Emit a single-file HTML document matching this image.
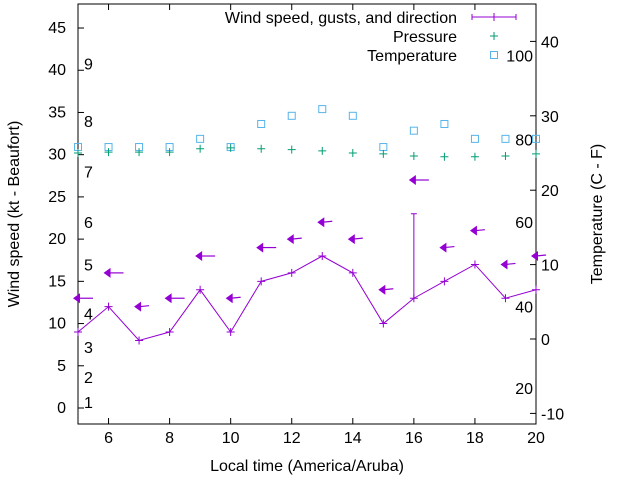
<!DOCTYPE html>
<html><head><meta charset="utf-8"><style>
body{margin:0;background:#fff}
svg{font-family:"Liberation Sans",sans-serif;font-size:16px}
</style></head><body>
<svg width="640" height="480" viewBox="0 0 640 480">
<g id="g"></g>
</svg>
<script>
const hours=[5,6,7,8,9,10,11,12,13,14,15,16,17,18,19,20];
const windSpeed=[9,12,8,9,14,9,15,16,18,16,10,13,15,17,13,14];
const gustIdx=11, gustHigh=23;
const arrowLevel=[13,16,12,13,18,13,19,20,22,20,14,27,19,21,17,18];
const arrowLong=[1,1,0,1,1,0,1,0,0,0,0,1,0,0,0,0];
const pressure=[30.2,30.3,30.3,30.3,30.7,30.8,30.7,30.6,30.45,30.2,30.1,29.85,29.75,29.75,29.85,30.1];
const temperature=[25.8,25.8,25.8,25.8,26.9,25.8,28.9,30,30.9,30,25.8,28,28.9,26.9,26.9,26.9];
const xTicks=[6,8,10,12,14,16,18,20];
const yTicks=[0,5,10,15,20,25,30,35,40,45];
const y2Ticks=[-10,0,10,20,30,40];
const beaufort=[["1",0.7],["2",3.7],["3",7.2],["4",11.2],["5",17],["6",22],["7",28],["8",34],["9",40.8]];
const fahr=[["20",-6.6],["40",4.4],["60",15.7],["80",26.8],["100",38.1]];
const L=78,R=536,T=4,B=424;
const X=v=>L+(v-5)*(R-L)/15;
const Y=v=>408-v*8.444;
const Y2=v=>339-v*7.44;
const g=document.getElementById('g');
const NS='http://www.w3.org/2000/svg';
function el(t,a,p){const e=document.createElementNS(NS,t);for(const k in a)e.setAttribute(k,a[k]);(p||g).appendChild(e);return e;}
function txt(x,y,s,a,extra){const e=el('text',Object.assign({x:x,y:y,'text-anchor':a||'start',fill:'#000'},extra||{}));e.textContent=s;return e;}
const frame=el('rect',{x:L,y:T,width:R-L,height:B-T,fill:'none',stroke:'#000','stroke-width':1});

yTicks.forEach(v=>{const y=Y(v);el('line',{x1:L,y1:y,x2:L+6,y2:y,stroke:'#000'});
 const t=txt(L-12,y+5,String(v),'end');});
y2Ticks.forEach(v=>{const y=Y2(v);el('line',{x1:R-6,y1:y,x2:R,y2:y,stroke:'#000'});
 const t=txt(R+5,y+6,String(v));});
xTicks.forEach(v=>{const x=X(v);el('line',{x1:x,y1:B,x2:x,y2:B-6,stroke:'#000'});el('line',{x1:x,y1:T,x2:x,y2:T+6,stroke:'#000'});
 const t=txt(x,B+19,String(v),'middle');});
beaufort.forEach(b=>{const t=txt(84,Y(b[1])+6,b[0]);});
fahr.forEach(b=>{const t=txt(533,Y2(b[1])+6,b[0],'end');});
temperature.forEach((v,i)=>{const s=el('rect',{x:X(hours[i])-3.5,y:Y2(v)-3.5,width:7,height:7,fill:'none',stroke:'#56b4e9','stroke-width':1});
 });
pressure.forEach((v,i)=>{const x=X(hours[i]),y=Y(v);const p=el('path',{d:`M${x-4},${y}h8M${x},${y-4}v8`,stroke:'#009e73','stroke-width':1});
 });
const line=el('polyline',{points:hours.map((h,i)=>X(h)+','+Y(windSpeed[i])).join(' '),fill:'none',stroke:'#9400d3','stroke-width':1});

windSpeed.forEach((v,i)=>{const x=X(hours[i]),y=Y(v);const p=el('path',{d:`M${x-4},${y}h8M${x},${y-4}v8`,stroke:'#9400d3'});
 });
const gx=X(hours[gustIdx]);
const gb=el('path',{d:`M${gx},${Y(windSpeed[gustIdx])}V${Y(gustHigh)}M${gx-3},${Y(gustHigh)}h6`,stroke:'#9400d3'});

arrowLevel.forEach((v,i)=>{const x=X(hours[i]),y=Y(v);const len=arrowLong[i]?15:10;
 const a=el('g',{});
 el('line',{x1:x,y1:y,x2:x+len,y2:y+(arrowLong[i]?0:-1),stroke:'#9400d3','stroke-width':1.2},a);
 el('path',{d:`M${x-5},${y}L${x+2},${y-5}L${x+2},${y+5}Z`,fill:'#9400d3'},a);});
const lg=el('g',{});
[['Wind speed, gusts, and direction',17],['Pressure',36],['Temperature',55]].forEach((r,i)=>{const t=txt(457,r[1]+6,r[0],'end');lg.appendChild(t);});
el('path',{d:'M472,17H516M472,14v6M516,14v6M494,13v8',stroke:'#9400d3'},lg);
el('path',{d:'M490,36h8M494,32v8',stroke:'#009e73'},lg);
el('rect',{x:490.5,y:51.5,width:7,height:7,fill:'none',stroke:'#56b4e9'},lg);
const xt=txt(307,471,'Local time (America/Aruba)','middle');
const yt=txt(0,0,'Wind speed (kt - Beaufort)','middle',{transform:'translate(19,214) rotate(-90)'});
const y2t=txt(0,0,'Temperature (C - F)','middle',{transform:'translate(602,214) rotate(-90)'});
</script>
</body></html>
